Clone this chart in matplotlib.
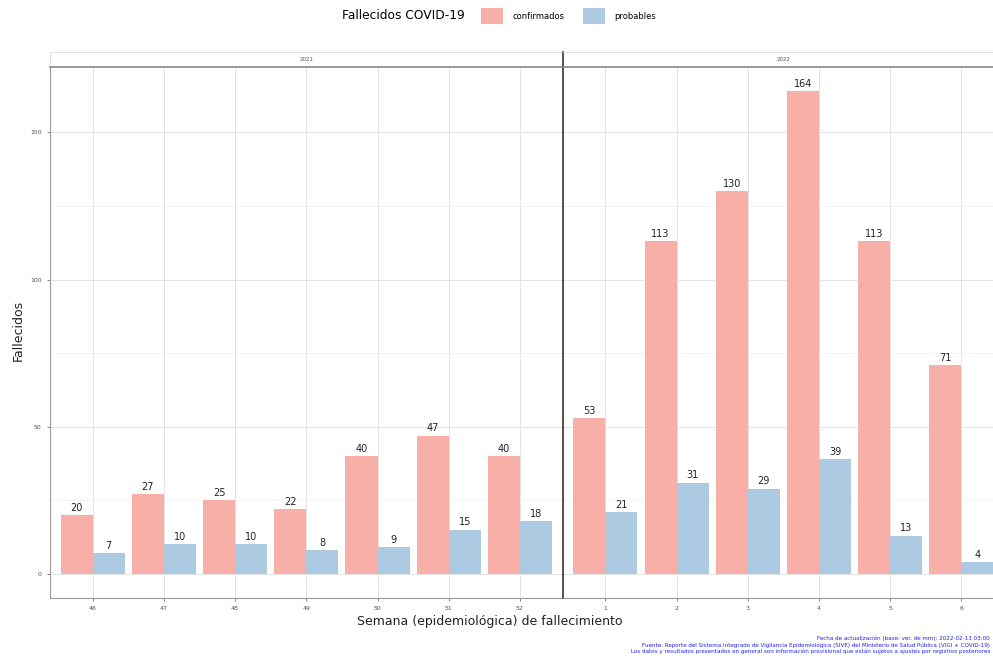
import numpy as np
import matplotlib
matplotlib.use("Agg")
import matplotlib.pyplot as plt
from matplotlib.patches import Patch
from matplotlib.offsetbox import HPacker

# Data
weeks_2021 = ["46", "47", "48", "49", "50", "51", "52"]
conf_2021 = [20, 27, 25, 22, 40, 47, 40]
prob_2021 = [7, 10, 10, 8, 9, 15, 18]

weeks_2022 = ["1", "2", "3", "4", "5", "6"]
conf_2022 = [53, 113, 130, 164, 113, 71]
prob_2022 = [21, 31, 29, 39, 13, 4]

years = ["2021", "2022"]

col_conf = "#F8AFA8"
col_prob = "#ACCBE3"

W, H = 993, 660
fig = plt.figure(figsize=(W / 100, H / 100), dpi=100)

unit = 71.2  # pixels per category
top_px, bot_px = 67, 598
left_px = 50
ylim = (-8.2, 172.2)

panels = [(weeks_2021, conf_2021, prob_2021), (weeks_2022, conf_2022, prob_2022)]
x0 = left_px
for i, (wk, conf, prob) in enumerate(panels):
    n = len(wk)
    wpx = (n - 1 + 1.2) * unit
    ax = fig.add_axes([x0 / W, 1 - bot_px / H, wpx / W, (bot_px - top_px) / H])
    x = np.arange(n)
    bw = 0.45
    ax.bar(x - bw / 2, conf, width=bw, color=col_conf, zorder=2)
    ax.bar(x + bw / 2, prob, width=bw, color=col_prob, zorder=2)
    for xi, c, p in zip(x, conf, prob):
        ax.text(xi - bw / 2, c + 0.8, str(c), ha="center", va="bottom", fontsize=7, color="#222222")
        ax.text(xi + bw / 2, p + 0.8, str(p), ha="center", va="bottom", fontsize=7, color="#222222")
    ax.set_xlim(-0.6, n - 0.4)
    ax.set_ylim(*ylim)
    ax.set_xticks(x)
    ax.set_xticklabels(wk, fontsize=4.5, color="#555555")
    ax.set_yticks([0, 50, 100, 150])
    ax.set_yticks([25, 75, 125], minor=True)
    ax.grid(True, which="major", color="#e4e4e4", linewidth=0.7, zorder=0)
    ax.grid(True, which="minor", axis="y", color="#efefef", linewidth=0.5, zorder=0)
    ax.tick_params(axis="both", length=2.5, width=0.5, color="#555555", labelsize=4.5, labelcolor="#555555")
    ax.tick_params(which="minor", length=0)
    for s in ["top", "right"]:
        ax.spines[s].set_visible(False)
    ax.spines["bottom"].set_color("#999999")
    ax.spines["bottom"].set_linewidth(0.8)
    if i == 0:
        ax.spines["left"].set_color("#999999")
        ax.spines["left"].set_linewidth(0.8)
    else:
        ax.spines["left"].set_color("#333333")
        ax.spines["left"].set_linewidth(1.2)
        ax.tick_params(axis="y", left=False, labelleft=False)

    # facet strip
    sax = fig.add_axes([x0 / W, 1 - top_px / H, wpx / W, 15 / H])
    sax.set_xticks([])
    sax.set_yticks([])
    sax.set_facecolor("white")
    for s in sax.spines.values():
        s.set_color("#dddddd")
        s.set_linewidth(0.6)
    sax.spines["bottom"].set_color("#888888")
    sax.spines["bottom"].set_linewidth(1.2)
    if i == 1:
        sax.spines["left"].set_color("#333333")
        sax.spines["left"].set_linewidth(1.2)
    sax.text(0.5, 0.5, years[i], ha="center", va="center", fontsize=4, color="#555555",
             transform=sax.transAxes)
    x0 += wpx

fig.text(18 / W, 1 - 330 / H, "Fallecidos", rotation=90, ha="center", va="center", fontsize=9, color="#222222")
fig.text(490 / W, 1 - 622 / H, "Semana (epidemiológica) de fallecimiento", ha="center", va="center",
         fontsize=9, color="#222222")

handles = [Patch(facecolor=col_conf, label="confirmados"), Patch(facecolor=col_prob, label="probables")]
leg = fig.legend(handles=handles, title="Fallecidos COVID-19", loc="center",
                 bbox_to_anchor=(499 / W, 1 - 16 / H), ncol=2, frameon=False, fontsize=6,
                 title_fontsize=8.8, handlelength=2.6, handleheight=2.4,
                 columnspacing=2.2, handletextpad=1.2)
# title to the left of the keys, like ggplot's top legend
leg._legend_box._children = [HPacker(pad=0, sep=12, align="center",
                                     children=[leg._legend_title_box, leg._legend_handle_box])]

caption = ("Fecha de actualización (base: ver. de mm): 2022-02-13 03:00\n"
           "Fuente: Reporte del Sistema Integrado de Vigilancia Epidemiológica (SIVE) del Ministerio de Salud Pública (VIGI + COVID-19)\n"
           "Los datos y resultados presentados en general son información provisional que están sujetos a ajustes por registros posteriores")
fig.text(0.997, 1 - 645 / H, caption, ha="right", va="center", fontsize=4.1, color="#2222ee", linespacing=1.25)

fig.savefig("out.png", dpi=100, facecolor="white")
